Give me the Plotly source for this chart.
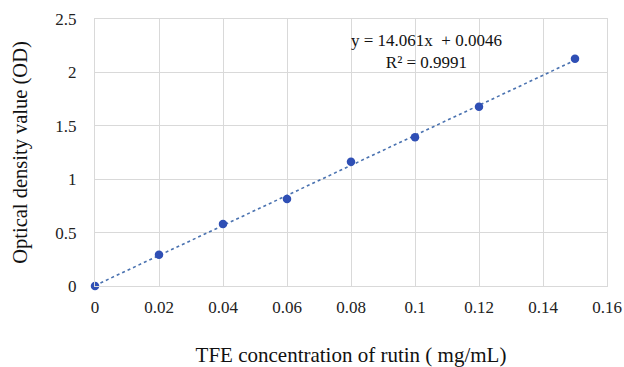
import plotly.graph_objects as go

conc = [0, 0.02, 0.04, 0.06, 0.08, 0.10, 0.12, 0.15]
od = [0.0, 0.293, 0.58, 0.815, 1.164, 1.392, 1.679, 2.128]
slope = 14.061
intercept = 0.0046
r2 = 0.9991
x_ticks = [0, 0.02, 0.04, 0.06, 0.08, 0.1, 0.12, 0.14, 0.16]
x_tick_labels = ["0", "0.02", "0.04", "0.06", "0.08", "0.1", "0.12", "0.14", "0.16"]
y_ticks = [0, 0.5, 1, 1.5, 2, 2.5]
y_tick_labels = ["0", "0.5", "1", "1.5", "2", "2.5"]

fit_x = [conc[0], conc[-1]]
fit_y = [slope * v + intercept for v in fit_x]

font_family = "Liberation Serif"
grid = "#d9d9d9"

fig = go.Figure()
fig.add_trace(go.Scatter(x=fit_x, y=fit_y, mode="lines",
                         line=dict(color="#4a72b0", width=1.6, dash="dot"),
                         showlegend=False, hoverinfo="skip"))
fig.add_trace(go.Scatter(x=conc, y=od, mode="markers", cliponaxis=False,
                         marker=dict(color="#2f4fb5", size=8.5),
                         showlegend=False))

fig.add_annotation(x=0.1035, y=2.2, xref="x", yref="y",
                   text=f"y = {slope}x  + {intercept}<br>R² = {r2}",
                   showarrow=False, align="center",
                   font=dict(family=font_family, size=17, color="#111"))

fig.update_layout(
    width=624, height=367,
    margin=dict(l=95, r=17, t=19, b=81),
    paper_bgcolor="white", plot_bgcolor="white",
    font=dict(family=font_family, color="#222"),
    xaxis=dict(range=[0, 0.16], tickvals=x_ticks, ticktext=x_tick_labels,
               showgrid=True, gridcolor=grid, gridwidth=1, automargin=False,
               zeroline=False, showline=True, linecolor=grid, mirror=True,
               tickfont=dict(size=17, family=font_family, color="#222"),
               ticks="", ticklen=0, ticklabelstandoff=6,
               title=dict(text="TFE concentration of rutin ( mg/mL)",
                          font=dict(size=21, family=font_family, color="#111"),
                          standoff=30)),
    yaxis=dict(range=[0, 2.5], tickvals=y_ticks, ticktext=y_tick_labels,
               showgrid=True, gridcolor=grid, gridwidth=1, automargin=False,
               zeroline=False, showline=True, linecolor=grid, mirror=True,
               tickfont=dict(size=17, family=font_family, color="#222"),
               ticks="", ticklen=0, ticklabelstandoff=14,
               title=dict(text="Optical density value (OD)",
                          font=dict(size=20.5, family=font_family, color="#111"),
                          standoff=22)),
)

fig.write_html("out.html")
